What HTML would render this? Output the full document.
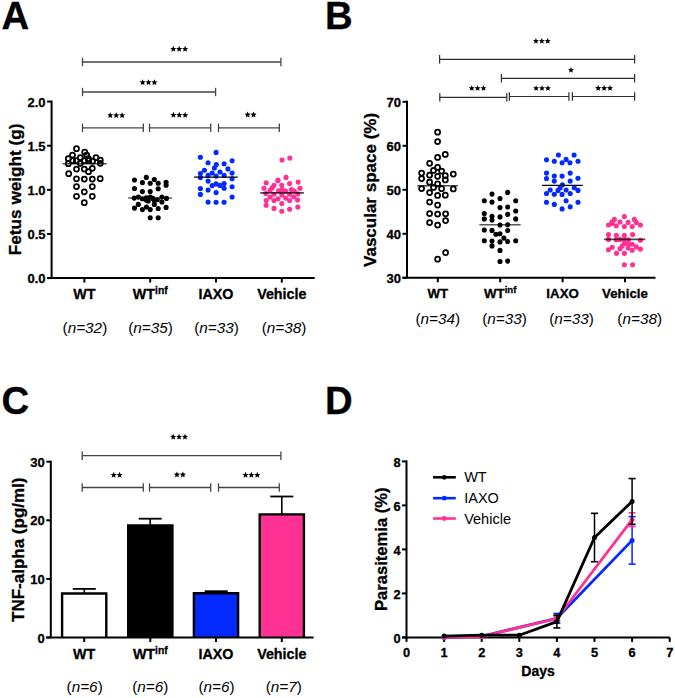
<!DOCTYPE html>
<html><head><meta charset="utf-8"><style>
html,body{margin:0;padding:0;background:#fff;}
svg{display:block;}
text{font-family:"Liberation Sans", sans-serif;fill:#000;}
text[font-weight=bold]{stroke:#000;stroke-width:0.3px;}
</style></head><body>
<svg width="675" height="698" viewBox="0 0 675 698">
<rect width="675" height="698" fill="#fff"/>
<text x="1.6" y="28.9" font-size="38.3" font-weight="bold" font-style="normal" text-anchor="start" >A</text>
<text x="325.0" y="28.9" font-size="38.3" font-weight="bold" font-style="normal" text-anchor="start" >B</text>
<text x="1.6" y="414.4" font-size="38.3" font-weight="bold" font-style="normal" text-anchor="start" >C</text>
<text x="325.0" y="414.4" font-size="38.3" font-weight="bold" font-style="normal" text-anchor="start" >D</text>
<line x1="51.6" y1="100.6" x2="51.6" y2="278.1" stroke="#000" stroke-width="2.0"/><line x1="47.1" y1="278.1" x2="51.6" y2="278.1" stroke="#000" stroke-width="2.0"/><text x="45.6" y="283.28000000000003" font-size="13" font-weight="bold" font-style="normal" text-anchor="end" >0.0</text><line x1="47.1" y1="233.97500000000002" x2="51.6" y2="233.97500000000002" stroke="#000" stroke-width="2.0"/><text x="45.6" y="239.15500000000003" font-size="13" font-weight="bold" font-style="normal" text-anchor="end" >0.5</text><line x1="47.1" y1="189.85000000000002" x2="51.6" y2="189.85000000000002" stroke="#000" stroke-width="2.0"/><text x="45.6" y="195.03000000000003" font-size="13" font-weight="bold" font-style="normal" text-anchor="end" >1.0</text><line x1="47.1" y1="145.72500000000002" x2="51.6" y2="145.72500000000002" stroke="#000" stroke-width="2.0"/><text x="45.6" y="150.90500000000003" font-size="13" font-weight="bold" font-style="normal" text-anchor="end" >1.5</text><line x1="47.1" y1="101.60000000000002" x2="51.6" y2="101.60000000000002" stroke="#000" stroke-width="2.0"/><text x="45.6" y="106.78000000000003" font-size="13" font-weight="bold" font-style="normal" text-anchor="end" >2.0</text>
<line x1="47.1" y1="278.1" x2="314.7" y2="278.1" stroke="#000" stroke-width="2.0"/><line x1="84.4" y1="278.1" x2="84.4" y2="282.6" stroke="#000" stroke-width="2.0"/><line x1="150.2" y1="278.1" x2="150.2" y2="282.6" stroke="#000" stroke-width="2.0"/><line x1="216.0" y1="278.1" x2="216.0" y2="282.6" stroke="#000" stroke-width="2.0"/><line x1="281.8" y1="278.1" x2="281.8" y2="282.6" stroke="#000" stroke-width="2.0"/>
<text x="0" y="0" font-size="17.2" font-weight="bold" text-anchor="middle" transform="translate(20.9,189.35) rotate(-90)">Fetus weight (g)</text>
<text x="84.4" y="298.8" font-size="14.3" font-weight="bold" font-style="normal" text-anchor="middle" >WT</text><text x="150.2" y="298.8" font-size="14.3" font-weight="bold" text-anchor="middle">WT<tspan font-size="10.3" dy="-5">inf</tspan></text><text x="216.0" y="298.8" font-size="14.3" font-weight="bold" font-style="normal" text-anchor="middle" >IAXO</text><text x="281.8" y="298.8" font-size="14.3" font-weight="bold" font-style="normal" text-anchor="middle" >Vehicle</text>
<text x="84.9" y="332.8" font-size="15.3" text-anchor="middle">(<tspan font-style="italic">n=</tspan><tspan font-style="italic">32</tspan>)</text><text x="150.5" y="332.8" font-size="15.3" text-anchor="middle">(<tspan font-style="italic">n=</tspan><tspan font-style="italic">35</tspan>)</text><text x="216.5" y="332.8" font-size="15.3" text-anchor="middle">(<tspan font-style="italic">n=</tspan><tspan font-style="italic">33</tspan>)</text><text x="284.0" y="332.8" font-size="15.3" text-anchor="middle">(<tspan font-style="italic">n=</tspan><tspan font-style="italic">38</tspan>)</text>
<circle cx="76.5" cy="148.7" r="2.5" fill="none" stroke="#000" stroke-width="1.75"/><circle cx="84.7" cy="152" r="2.5" fill="none" stroke="#000" stroke-width="1.75"/><circle cx="86.7" cy="155" r="2.5" fill="none" stroke="#000" stroke-width="1.75"/><circle cx="72.5" cy="155" r="2.5" fill="none" stroke="#000" stroke-width="1.75"/><circle cx="68.3" cy="158.7" r="2.5" fill="none" stroke="#000" stroke-width="1.75"/><circle cx="80.3" cy="157.7" r="2.5" fill="none" stroke="#000" stroke-width="1.75"/><circle cx="96" cy="157.7" r="2.5" fill="none" stroke="#000" stroke-width="1.75"/><circle cx="88.3" cy="158.7" r="2.5" fill="none" stroke="#000" stroke-width="1.75"/><circle cx="100.3" cy="160" r="2.5" fill="none" stroke="#000" stroke-width="1.75"/><circle cx="72.7" cy="160.7" r="2.5" fill="none" stroke="#000" stroke-width="1.75"/><circle cx="76.3" cy="160.7" r="2.5" fill="none" stroke="#000" stroke-width="1.75"/><circle cx="84.3" cy="160.7" r="2.5" fill="none" stroke="#000" stroke-width="1.75"/><circle cx="88.7" cy="160.7" r="2.5" fill="none" stroke="#000" stroke-width="1.75"/><circle cx="92.7" cy="161" r="2.5" fill="none" stroke="#000" stroke-width="1.75"/><circle cx="68.3" cy="163.7" r="2.5" fill="none" stroke="#000" stroke-width="1.75"/><circle cx="80.3" cy="163.3" r="2.5" fill="none" stroke="#000" stroke-width="1.75"/><circle cx="100.3" cy="163.3" r="2.5" fill="none" stroke="#000" stroke-width="1.75"/><circle cx="76.5" cy="169.1" r="2.5" fill="none" stroke="#000" stroke-width="1.75"/><circle cx="84.3" cy="169.1" r="2.5" fill="none" stroke="#000" stroke-width="1.75"/><circle cx="92.3" cy="168.3" r="2.5" fill="none" stroke="#000" stroke-width="1.75"/><circle cx="88.5" cy="171.7" r="2.5" fill="none" stroke="#000" stroke-width="1.75"/><circle cx="68.7" cy="173.7" r="2.5" fill="none" stroke="#000" stroke-width="1.75"/><circle cx="76.5" cy="178.8" r="2.5" fill="none" stroke="#000" stroke-width="1.75"/><circle cx="84.3" cy="179" r="2.5" fill="none" stroke="#000" stroke-width="1.75"/><circle cx="92.3" cy="179" r="2.5" fill="none" stroke="#000" stroke-width="1.75"/><circle cx="100.2" cy="178.7" r="2.5" fill="none" stroke="#000" stroke-width="1.75"/><circle cx="76.5" cy="186.5" r="2.5" fill="none" stroke="#000" stroke-width="1.75"/><circle cx="92.3" cy="186.5" r="2.5" fill="none" stroke="#000" stroke-width="1.75"/><circle cx="84.3" cy="191.8" r="2.5" fill="none" stroke="#000" stroke-width="1.75"/><circle cx="76.5" cy="196.3" r="2.5" fill="none" stroke="#000" stroke-width="1.75"/><circle cx="92.3" cy="196.3" r="2.5" fill="none" stroke="#000" stroke-width="1.75"/><circle cx="84.3" cy="202.7" r="2.5" fill="none" stroke="#000" stroke-width="1.75"/>
<line x1="62.6" y1="163.7" x2="106.6" y2="163.7" stroke="#000" stroke-width="1.6" opacity="0.7"/>
<circle cx="134.5" cy="180" r="2.55" fill="#000"/><circle cx="146.3" cy="177.4" r="2.55" fill="#000"/><circle cx="154.3" cy="179.6" r="2.55" fill="#000"/><circle cx="142.4" cy="182.6" r="2.55" fill="#000"/><circle cx="150.2" cy="183.3" r="2.55" fill="#000"/><circle cx="158.2" cy="183.2" r="2.55" fill="#000"/><circle cx="166.1" cy="182.2" r="2.55" fill="#000"/><circle cx="166.1" cy="185.2" r="2.55" fill="#000"/><circle cx="134.5" cy="188.5" r="2.55" fill="#000"/><circle cx="158.2" cy="188.7" r="2.55" fill="#000"/><circle cx="142.4" cy="191.6" r="2.55" fill="#000"/><circle cx="150.2" cy="191.5" r="2.55" fill="#000"/><circle cx="134.2" cy="198.1" r="2.55" fill="#000"/><circle cx="138.4" cy="197.1" r="2.55" fill="#000"/><circle cx="142.3" cy="198.8" r="2.55" fill="#000"/><circle cx="146.3" cy="197.8" r="2.55" fill="#000"/><circle cx="148.2" cy="201" r="2.55" fill="#000"/><circle cx="150.2" cy="197.1" r="2.55" fill="#000"/><circle cx="152.8" cy="198.4" r="2.55" fill="#000"/><circle cx="157.3" cy="199.7" r="2.55" fill="#000"/><circle cx="161.9" cy="197.1" r="2.55" fill="#000"/><circle cx="161.9" cy="202" r="2.55" fill="#000"/><circle cx="166.5" cy="198.4" r="2.55" fill="#000"/><circle cx="146.3" cy="200" r="2.55" fill="#000"/><circle cx="154.3" cy="200.5" r="2.55" fill="#000"/><circle cx="138.3" cy="204.4" r="2.55" fill="#000"/><circle cx="134.5" cy="208.1" r="2.55" fill="#000"/><circle cx="142.4" cy="209.6" r="2.55" fill="#000"/><circle cx="146.5" cy="207" r="2.55" fill="#000"/><circle cx="150.2" cy="209.6" r="2.55" fill="#000"/><circle cx="154.3" cy="204.4" r="2.55" fill="#000"/><circle cx="158.2" cy="208.5" r="2.55" fill="#000"/><circle cx="166.1" cy="207.4" r="2.55" fill="#000"/><circle cx="150.2" cy="217.8" r="2.55" fill="#000"/><circle cx="158.2" cy="217.8" r="2.55" fill="#000"/>
<line x1="128.3" y1="198" x2="172" y2="198" stroke="#000" stroke-width="1.6" opacity="0.65"/>
<circle cx="216.1" cy="152.4" r="2.55" fill="#022aff"/><circle cx="200.4" cy="157.2" r="2.55" fill="#022aff"/><circle cx="232.1" cy="160.7" r="2.55" fill="#022aff"/><circle cx="208.1" cy="162.8" r="2.55" fill="#022aff"/><circle cx="216.3" cy="164.6" r="2.55" fill="#022aff"/><circle cx="224.1" cy="163.7" r="2.55" fill="#022aff"/><circle cx="214.4" cy="168" r="2.55" fill="#022aff"/><circle cx="227.9" cy="168.9" r="2.55" fill="#022aff"/><circle cx="204.4" cy="170.3" r="2.55" fill="#022aff"/><circle cx="200.4" cy="173.5" r="2.55" fill="#022aff"/><circle cx="212.2" cy="173" r="2.55" fill="#022aff"/><circle cx="220" cy="172" r="2.55" fill="#022aff"/><circle cx="232.1" cy="173.1" r="2.55" fill="#022aff"/><circle cx="208.1" cy="175.4" r="2.55" fill="#022aff"/><circle cx="216.1" cy="176.1" r="2.55" fill="#022aff"/><circle cx="224.1" cy="175.4" r="2.55" fill="#022aff"/><circle cx="200.4" cy="177.6" r="2.55" fill="#022aff"/><circle cx="232.1" cy="178.7" r="2.55" fill="#022aff"/><circle cx="208.1" cy="181.1" r="2.55" fill="#022aff"/><circle cx="212.2" cy="185.6" r="2.55" fill="#022aff"/><circle cx="216.1" cy="183.9" r="2.55" fill="#022aff"/><circle cx="220" cy="185.4" r="2.55" fill="#022aff"/><circle cx="224.1" cy="183.5" r="2.55" fill="#022aff"/><circle cx="224.1" cy="188.3" r="2.55" fill="#022aff"/><circle cx="232.1" cy="186.7" r="2.55" fill="#022aff"/><circle cx="200.4" cy="188.5" r="2.55" fill="#022aff"/><circle cx="208.1" cy="190" r="2.55" fill="#022aff"/><circle cx="216.1" cy="192.6" r="2.55" fill="#022aff"/><circle cx="200.4" cy="194.4" r="2.55" fill="#022aff"/><circle cx="232.1" cy="197" r="2.55" fill="#022aff"/><circle cx="208.1" cy="202.1" r="2.55" fill="#022aff"/><circle cx="216.1" cy="202.2" r="2.55" fill="#022aff"/><circle cx="224.1" cy="202.2" r="2.55" fill="#022aff"/>
<line x1="194.1" y1="177.2" x2="237.8" y2="177.2" stroke="#000" stroke-width="1.3" opacity="1"/>
<circle cx="282" cy="160" r="2.55" fill="#ff3192"/><circle cx="289.8" cy="158.1" r="2.55" fill="#ff3192"/><circle cx="286" cy="177.4" r="2.55" fill="#ff3192"/><circle cx="278" cy="180" r="2.55" fill="#ff3192"/><circle cx="266.2" cy="182.8" r="2.55" fill="#ff3192"/><circle cx="277.9" cy="180.7" r="2.55" fill="#ff3192"/><circle cx="289.6" cy="183.6" r="2.55" fill="#ff3192"/><circle cx="298.2" cy="182.1" r="2.55" fill="#ff3192"/><circle cx="274" cy="185.3" r="2.55" fill="#ff3192"/><circle cx="281.8" cy="185.3" r="2.55" fill="#ff3192"/><circle cx="264" cy="188.2" r="2.55" fill="#ff3192"/><circle cx="300" cy="188.2" r="2.55" fill="#ff3192"/><circle cx="272.2" cy="187.8" r="2.55" fill="#ff3192"/><circle cx="270.1" cy="190.3" r="2.55" fill="#ff3192"/><circle cx="278.6" cy="190.7" r="2.55" fill="#ff3192"/><circle cx="282.2" cy="189.6" r="2.55" fill="#ff3192"/><circle cx="285.7" cy="191" r="2.55" fill="#ff3192"/><circle cx="291.4" cy="189.6" r="2.55" fill="#ff3192"/><circle cx="294.3" cy="191" r="2.55" fill="#ff3192"/><circle cx="265.8" cy="193.5" r="2.55" fill="#ff3192"/><circle cx="274" cy="194.2" r="2.55" fill="#ff3192"/><circle cx="281.8" cy="194.9" r="2.55" fill="#ff3192"/><circle cx="289.6" cy="194.2" r="2.55" fill="#ff3192"/><circle cx="297.8" cy="193.9" r="2.55" fill="#ff3192"/><circle cx="270.1" cy="197.1" r="2.55" fill="#ff3192"/><circle cx="277.9" cy="198.8" r="2.55" fill="#ff3192"/><circle cx="285.7" cy="198.1" r="2.55" fill="#ff3192"/><circle cx="293.6" cy="196.7" r="2.55" fill="#ff3192"/><circle cx="266.2" cy="200.6" r="2.55" fill="#ff3192"/><circle cx="274" cy="200.6" r="2.55" fill="#ff3192"/><circle cx="289.6" cy="200.6" r="2.55" fill="#ff3192"/><circle cx="297.5" cy="199.9" r="2.55" fill="#ff3192"/><circle cx="281.8" cy="203.5" r="2.55" fill="#ff3192"/><circle cx="266.2" cy="205.2" r="2.55" fill="#ff3192"/><circle cx="274" cy="208.4" r="2.55" fill="#ff3192"/><circle cx="281.8" cy="211.3" r="2.55" fill="#ff3192"/><circle cx="289.6" cy="209.2" r="2.55" fill="#ff3192"/><circle cx="297.8" cy="207" r="2.55" fill="#ff3192"/>
<line x1="260.2" y1="192.9" x2="303.9" y2="192.9" stroke="#000" stroke-width="1.8" opacity="0.7"/>
<line x1="82.5" y1="62" x2="280.9" y2="62" stroke="#444" stroke-width="1.3"/><line x1="82.5" y1="57.8" x2="82.5" y2="66.2" stroke="#444" stroke-width="1.3"/><line x1="280.9" y1="57.8" x2="280.9" y2="66.2" stroke="#444" stroke-width="1.3"/>
<polygon points="173.30,45.85 174.18,47.89 176.39,48.10 174.72,49.56 175.21,51.73 173.30,50.59 171.39,51.73 171.88,49.56 170.21,48.10 172.42,47.89" fill="#000"/><polygon points="179.20,45.85 180.08,47.89 182.29,48.10 180.62,49.56 181.11,51.73 179.20,50.59 177.29,51.73 177.78,49.56 176.11,48.10 178.32,47.89" fill="#000"/><polygon points="185.10,45.85 185.98,47.89 188.19,48.10 186.52,49.56 187.01,51.73 185.10,50.59 183.19,51.73 183.68,49.56 182.01,48.10 184.22,47.89" fill="#000"/>
<line x1="82.5" y1="92" x2="215.6" y2="92" stroke="#444" stroke-width="1.3"/><line x1="82.5" y1="87.8" x2="82.5" y2="96.2" stroke="#444" stroke-width="1.3"/><line x1="215.6" y1="87.8" x2="215.6" y2="96.2" stroke="#444" stroke-width="1.3"/>
<polygon points="142.60,79.15 143.48,81.19 145.69,81.40 144.02,82.86 144.51,85.03 142.60,83.90 140.69,85.03 141.18,82.86 139.51,81.40 141.72,81.19" fill="#000"/><polygon points="148.50,79.15 149.38,81.19 151.59,81.40 149.92,82.86 150.41,85.03 148.50,83.90 146.59,85.03 147.08,82.86 145.41,81.40 147.62,81.19" fill="#000"/><polygon points="154.40,79.15 155.28,81.19 157.49,81.40 155.82,82.86 156.31,85.03 154.40,83.90 152.49,85.03 152.98,82.86 151.31,81.40 153.52,81.19" fill="#000"/>
<line x1="82.5" y1="127.8" x2="143.3" y2="127.8" stroke="#444" stroke-width="1.3"/><line x1="82.5" y1="123.6" x2="82.5" y2="132.0" stroke="#444" stroke-width="1.3"/><line x1="143.3" y1="123.6" x2="143.3" y2="132.0" stroke="#444" stroke-width="1.3"/>
<line x1="149.5" y1="127.8" x2="210.7" y2="127.8" stroke="#444" stroke-width="1.3"/><line x1="149.5" y1="123.6" x2="149.5" y2="132.0" stroke="#444" stroke-width="1.3"/><line x1="210.7" y1="123.6" x2="210.7" y2="132.0" stroke="#444" stroke-width="1.3"/>
<line x1="218.5" y1="127.8" x2="279.3" y2="127.8" stroke="#444" stroke-width="1.3"/><line x1="218.5" y1="123.6" x2="218.5" y2="132.0" stroke="#444" stroke-width="1.3"/><line x1="279.3" y1="123.6" x2="279.3" y2="132.0" stroke="#444" stroke-width="1.3"/>
<polygon points="110.30,112.15 111.18,114.19 113.39,114.40 111.72,115.86 112.21,118.03 110.30,116.90 108.39,118.03 108.88,115.86 107.21,114.40 109.42,114.19" fill="#000"/><polygon points="116.20,112.15 117.08,114.19 119.29,114.40 117.62,115.86 118.11,118.03 116.20,116.90 114.29,118.03 114.78,115.86 113.11,114.40 115.32,114.19" fill="#000"/><polygon points="122.10,112.15 122.98,114.19 125.19,114.40 123.52,115.86 124.01,118.03 122.10,116.90 120.19,118.03 120.68,115.86 119.01,114.40 121.22,114.19" fill="#000"/>
<polygon points="173.40,111.85 174.28,113.89 176.49,114.10 174.82,115.56 175.31,117.73 173.40,116.59 171.49,117.73 171.98,115.56 170.31,114.10 172.52,113.89" fill="#000"/><polygon points="179.30,111.85 180.18,113.89 182.39,114.10 180.72,115.56 181.21,117.73 179.30,116.59 177.39,117.73 177.88,115.56 176.21,114.10 178.42,113.89" fill="#000"/><polygon points="185.20,111.85 186.08,113.89 188.29,114.10 186.62,115.56 187.11,117.73 185.20,116.59 183.29,117.73 183.78,115.56 182.11,114.10 184.32,113.89" fill="#000"/>
<polygon points="247.65,111.55 248.53,113.59 250.74,113.80 249.07,115.26 249.56,117.43 247.65,116.30 245.74,117.43 246.23,115.26 244.56,113.80 246.77,113.59" fill="#000"/><polygon points="253.55,111.55 254.43,113.59 256.64,113.80 254.97,115.26 255.46,117.43 253.55,116.30 251.64,117.43 252.13,115.26 250.46,113.80 252.67,113.59" fill="#000"/>
<line x1="407" y1="100.80000000000001" x2="407" y2="277.8" stroke="#000" stroke-width="2.0"/><line x1="402.5" y1="277.8" x2="407" y2="277.8" stroke="#000" stroke-width="2.0"/><text x="401.0" y="282.98" font-size="13" font-weight="bold" font-style="normal" text-anchor="end" >30</text><line x1="402.5" y1="233.8" x2="407" y2="233.8" stroke="#000" stroke-width="2.0"/><text x="401.0" y="238.98000000000002" font-size="13" font-weight="bold" font-style="normal" text-anchor="end" >40</text><line x1="402.5" y1="189.8" x2="407" y2="189.8" stroke="#000" stroke-width="2.0"/><text x="401.0" y="194.98000000000002" font-size="13" font-weight="bold" font-style="normal" text-anchor="end" >50</text><line x1="402.5" y1="145.8" x2="407" y2="145.8" stroke="#000" stroke-width="2.0"/><text x="401.0" y="150.98000000000002" font-size="13" font-weight="bold" font-style="normal" text-anchor="end" >60</text><line x1="402.5" y1="101.80000000000001" x2="407" y2="101.80000000000001" stroke="#000" stroke-width="2.0"/><text x="401.0" y="106.98000000000002" font-size="13" font-weight="bold" font-style="normal" text-anchor="end" >70</text>
<line x1="402.5" y1="277.8" x2="655.5" y2="277.8" stroke="#000" stroke-width="2.0"/><line x1="437.8" y1="277.8" x2="437.8" y2="282.3" stroke="#000" stroke-width="2.0"/><line x1="500.2" y1="277.8" x2="500.2" y2="282.3" stroke="#000" stroke-width="2.0"/><line x1="562.6" y1="277.8" x2="562.6" y2="282.3" stroke="#000" stroke-width="2.0"/><line x1="625.0" y1="277.8" x2="625.0" y2="282.3" stroke="#000" stroke-width="2.0"/>
<text x="0" y="0" font-size="17.0" font-weight="bold" text-anchor="middle" transform="translate(376.2,189.95) rotate(-90)">Vascular space (%)</text>
<text x="437.8" y="297.6" font-size="13.3" font-weight="bold" font-style="normal" text-anchor="middle" >WT</text><text x="500.2" y="297.6" font-size="13.3" font-weight="bold" text-anchor="middle">WT<tspan font-size="9.6" dy="-5">inf</tspan></text><text x="562.6" y="297.6" font-size="13.3" font-weight="bold" font-style="normal" text-anchor="middle" >IAXO</text><text x="625.0" y="297.6" font-size="13.3" font-weight="bold" font-style="normal" text-anchor="middle" >Vehicle</text>
<text x="437.75" y="324.4" font-size="15.3" text-anchor="middle">(<tspan font-style="italic">n=</tspan><tspan font-style="italic">34</tspan>)</text><text x="504.6" y="324.4" font-size="15.3" text-anchor="middle">(<tspan font-style="italic">n=</tspan><tspan font-style="italic">33</tspan>)</text><text x="571.6" y="324.4" font-size="15.3" text-anchor="middle">(<tspan font-style="italic">n=</tspan><tspan font-style="italic">33</tspan>)</text><text x="639.7" y="324.4" font-size="15.3" text-anchor="middle">(<tspan font-style="italic">n=</tspan><tspan font-style="italic">38</tspan>)</text>
<circle cx="437.6" cy="132.2" r="2.5" fill="none" stroke="#000" stroke-width="1.75"/><circle cx="437.6" cy="141.5" r="2.5" fill="none" stroke="#000" stroke-width="1.75"/><circle cx="445.3" cy="154.4" r="2.5" fill="none" stroke="#000" stroke-width="1.75"/><circle cx="437.6" cy="157.4" r="2.5" fill="none" stroke="#000" stroke-width="1.75"/><circle cx="429.6" cy="163.3" r="2.5" fill="none" stroke="#000" stroke-width="1.75"/><circle cx="437.6" cy="167.4" r="2.5" fill="none" stroke="#000" stroke-width="1.75"/><circle cx="433.5" cy="170.4" r="2.5" fill="none" stroke="#000" stroke-width="1.75"/><circle cx="441.6" cy="171" r="2.5" fill="none" stroke="#000" stroke-width="1.75"/><circle cx="421.6" cy="173" r="2.5" fill="none" stroke="#000" stroke-width="1.75"/><circle cx="453.3" cy="174.1" r="2.5" fill="none" stroke="#000" stroke-width="1.75"/><circle cx="429.6" cy="175.2" r="2.5" fill="none" stroke="#000" stroke-width="1.75"/><circle cx="437.6" cy="176.3" r="2.5" fill="none" stroke="#000" stroke-width="1.75"/><circle cx="445.3" cy="175.7" r="2.5" fill="none" stroke="#000" stroke-width="1.75"/><circle cx="421.6" cy="178.5" r="2.5" fill="none" stroke="#000" stroke-width="1.75"/><circle cx="445.3" cy="179.9" r="2.5" fill="none" stroke="#000" stroke-width="1.75"/><circle cx="429.6" cy="182.2" r="2.5" fill="none" stroke="#000" stroke-width="1.75"/><circle cx="437.6" cy="183.9" r="2.5" fill="none" stroke="#000" stroke-width="1.75"/><circle cx="421.6" cy="188.5" r="2.5" fill="none" stroke="#000" stroke-width="1.75"/><circle cx="433.5" cy="187.4" r="2.5" fill="none" stroke="#000" stroke-width="1.75"/><circle cx="441.6" cy="188.7" r="2.5" fill="none" stroke="#000" stroke-width="1.75"/><circle cx="453.3" cy="188.9" r="2.5" fill="none" stroke="#000" stroke-width="1.75"/><circle cx="429.6" cy="192.6" r="2.5" fill="none" stroke="#000" stroke-width="1.75"/><circle cx="437.6" cy="195.4" r="2.5" fill="none" stroke="#000" stroke-width="1.75"/><circle cx="445.3" cy="195.2" r="2.5" fill="none" stroke="#000" stroke-width="1.75"/><circle cx="429.6" cy="202" r="2.5" fill="none" stroke="#000" stroke-width="1.75"/><circle cx="437.6" cy="205" r="2.5" fill="none" stroke="#000" stroke-width="1.75"/><circle cx="429.6" cy="213.5" r="2.5" fill="none" stroke="#000" stroke-width="1.75"/><circle cx="437.6" cy="214" r="2.5" fill="none" stroke="#000" stroke-width="1.75"/><circle cx="445.6" cy="213.8" r="2.5" fill="none" stroke="#000" stroke-width="1.75"/><circle cx="445.6" cy="220.6" r="2.5" fill="none" stroke="#000" stroke-width="1.75"/><circle cx="429.6" cy="222.6" r="2.5" fill="none" stroke="#000" stroke-width="1.75"/><circle cx="437.6" cy="225.1" r="2.5" fill="none" stroke="#000" stroke-width="1.75"/><circle cx="445.6" cy="252.7" r="2.5" fill="none" stroke="#000" stroke-width="1.75"/><circle cx="437.6" cy="259.2" r="2.5" fill="none" stroke="#000" stroke-width="1.75"/>
<line x1="417.2" y1="185.8" x2="457.9" y2="185.8" stroke="#000" stroke-width="1.6" opacity="0.7"/>
<circle cx="507.7" cy="192.4" r="2.55" fill="#000"/><circle cx="492" cy="194.1" r="2.55" fill="#000"/><circle cx="500" cy="198.5" r="2.55" fill="#000"/><circle cx="484.3" cy="200.7" r="2.55" fill="#000"/><circle cx="515.7" cy="200.7" r="2.55" fill="#000"/><circle cx="492" cy="202.1" r="2.55" fill="#000"/><circle cx="500" cy="207.6" r="2.55" fill="#000"/><circle cx="507.7" cy="207" r="2.55" fill="#000"/><circle cx="515.7" cy="211" r="2.55" fill="#000"/><circle cx="484.3" cy="213.5" r="2.55" fill="#000"/><circle cx="507.7" cy="214.4" r="2.55" fill="#000"/><circle cx="492" cy="216.3" r="2.55" fill="#000"/><circle cx="500" cy="216.9" r="2.55" fill="#000"/><circle cx="484.3" cy="218.9" r="2.55" fill="#000"/><circle cx="515.7" cy="218.9" r="2.55" fill="#000"/><circle cx="492" cy="220" r="2.55" fill="#000"/><circle cx="500" cy="225" r="2.55" fill="#000"/><circle cx="507.7" cy="224.8" r="2.55" fill="#000"/><circle cx="484.3" cy="230" r="2.55" fill="#000"/><circle cx="492" cy="230.4" r="2.55" fill="#000"/><circle cx="507.7" cy="230.5" r="2.55" fill="#000"/><circle cx="495.9" cy="234.2" r="2.55" fill="#000"/><circle cx="500" cy="233.7" r="2.55" fill="#000"/><circle cx="503.9" cy="238.1" r="2.55" fill="#000"/><circle cx="484.3" cy="240.7" r="2.55" fill="#000"/><circle cx="492" cy="241.1" r="2.55" fill="#000"/><circle cx="500" cy="241.9" r="2.55" fill="#000"/><circle cx="507.7" cy="241.5" r="2.55" fill="#000"/><circle cx="515.7" cy="240.7" r="2.55" fill="#000"/><circle cx="492" cy="245.9" r="2.55" fill="#000"/><circle cx="500" cy="250.4" r="2.55" fill="#000"/><circle cx="500" cy="261.5" r="2.55" fill="#000"/><circle cx="507.7" cy="261.1" r="2.55" fill="#000"/>
<line x1="479.4" y1="224.8" x2="520.6" y2="224.8" stroke="#000" stroke-width="1.6" opacity="0.65"/>
<circle cx="558.4" cy="155" r="2.55" fill="#022aff"/><circle cx="574.1" cy="155" r="2.55" fill="#022aff"/><circle cx="546.5" cy="159.8" r="2.55" fill="#022aff"/><circle cx="554.3" cy="161.3" r="2.55" fill="#022aff"/><circle cx="566.1" cy="159.4" r="2.55" fill="#022aff"/><circle cx="562.1" cy="162.8" r="2.55" fill="#022aff"/><circle cx="570" cy="162.8" r="2.55" fill="#022aff"/><circle cx="578" cy="161.3" r="2.55" fill="#022aff"/><circle cx="546.5" cy="173.1" r="2.55" fill="#022aff"/><circle cx="570.2" cy="173.1" r="2.55" fill="#022aff"/><circle cx="554.3" cy="176" r="2.55" fill="#022aff"/><circle cx="562.1" cy="176.1" r="2.55" fill="#022aff"/><circle cx="546.5" cy="178.5" r="2.55" fill="#022aff"/><circle cx="578" cy="178.3" r="2.55" fill="#022aff"/><circle cx="554.3" cy="181.1" r="2.55" fill="#022aff"/><circle cx="570.2" cy="181.1" r="2.55" fill="#022aff"/><circle cx="562.4" cy="184.8" r="2.55" fill="#022aff"/><circle cx="560.2" cy="187.8" r="2.55" fill="#022aff"/><circle cx="558" cy="190.4" r="2.55" fill="#022aff"/><circle cx="550.2" cy="190" r="2.55" fill="#022aff"/><circle cx="566.1" cy="190" r="2.55" fill="#022aff"/><circle cx="574.3" cy="187.8" r="2.55" fill="#022aff"/><circle cx="578" cy="190.4" r="2.55" fill="#022aff"/><circle cx="546.5" cy="193.5" r="2.55" fill="#022aff"/><circle cx="554.3" cy="194.2" r="2.55" fill="#022aff"/><circle cx="562.1" cy="194.4" r="2.55" fill="#022aff"/><circle cx="570.2" cy="193.5" r="2.55" fill="#022aff"/><circle cx="546.5" cy="202.2" r="2.55" fill="#022aff"/><circle cx="554.3" cy="204.4" r="2.55" fill="#022aff"/><circle cx="566.1" cy="200.7" r="2.55" fill="#022aff"/><circle cx="578" cy="202.2" r="2.55" fill="#022aff"/><circle cx="562.1" cy="208.9" r="2.55" fill="#022aff"/><circle cx="570.2" cy="206.7" r="2.55" fill="#022aff"/>
<line x1="542.1" y1="185.4" x2="582.8" y2="185.4" stroke="#000" stroke-width="1.3" opacity="1"/>
<circle cx="624.4" cy="216.5" r="2.55" fill="#ff3192"/><circle cx="614.4" cy="219.4" r="2.55" fill="#ff3192"/><circle cx="634.4" cy="219.4" r="2.55" fill="#ff3192"/><circle cx="611.9" cy="222" r="2.55" fill="#ff3192"/><circle cx="620" cy="222" r="2.55" fill="#ff3192"/><circle cx="628.1" cy="222.4" r="2.55" fill="#ff3192"/><circle cx="636.3" cy="222.4" r="2.55" fill="#ff3192"/><circle cx="608.5" cy="225" r="2.55" fill="#ff3192"/><circle cx="616.3" cy="225.7" r="2.55" fill="#ff3192"/><circle cx="624.4" cy="226.5" r="2.55" fill="#ff3192"/><circle cx="632.2" cy="226.5" r="2.55" fill="#ff3192"/><circle cx="640.4" cy="225" r="2.55" fill="#ff3192"/><circle cx="612.2" cy="223.5" r="2.55" fill="#ff3192"/><circle cx="608.5" cy="234.6" r="2.55" fill="#ff3192"/><circle cx="616.3" cy="235.4" r="2.55" fill="#ff3192"/><circle cx="624.4" cy="235.4" r="2.55" fill="#ff3192"/><circle cx="632.6" cy="234.6" r="2.55" fill="#ff3192"/><circle cx="608.5" cy="239.4" r="2.55" fill="#ff3192"/><circle cx="616.3" cy="239.8" r="2.55" fill="#ff3192"/><circle cx="620" cy="239.4" r="2.55" fill="#ff3192"/><circle cx="628.5" cy="239.8" r="2.55" fill="#ff3192"/><circle cx="640.4" cy="240.2" r="2.55" fill="#ff3192"/><circle cx="624.4" cy="239.6" r="2.55" fill="#ff3192"/><circle cx="612.2" cy="247.2" r="2.55" fill="#ff3192"/><circle cx="608.5" cy="249.8" r="2.55" fill="#ff3192"/><circle cx="624.4" cy="243.5" r="2.55" fill="#ff3192"/><circle cx="622.2" cy="246.1" r="2.55" fill="#ff3192"/><circle cx="620" cy="248.7" r="2.55" fill="#ff3192"/><circle cx="632.2" cy="244.3" r="2.55" fill="#ff3192"/><circle cx="636.3" cy="246.9" r="2.55" fill="#ff3192"/><circle cx="640.4" cy="249.1" r="2.55" fill="#ff3192"/><circle cx="628.1" cy="248" r="2.55" fill="#ff3192"/><circle cx="632.2" cy="250.2" r="2.55" fill="#ff3192"/><circle cx="616.5" cy="253.4" r="2.55" fill="#ff3192"/><circle cx="624.4" cy="253.4" r="2.55" fill="#ff3192"/><circle cx="624.4" cy="264.8" r="2.55" fill="#ff3192"/><circle cx="632.6" cy="264.8" r="2.55" fill="#ff3192"/><circle cx="628.2" cy="244" r="2.55" fill="#ff3192"/>
<line x1="604.1" y1="239.3" x2="645.2" y2="239.3" stroke="#000" stroke-width="1.8" opacity="0.7"/>
<line x1="439.6" y1="59.3" x2="634.6" y2="59.3" stroke="#2e2e2e" stroke-width="1.2"/><line x1="439.6" y1="55.099999999999994" x2="439.6" y2="63.5" stroke="#2e2e2e" stroke-width="1.2"/><line x1="634.6" y1="55.099999999999994" x2="634.6" y2="63.5" stroke="#2e2e2e" stroke-width="1.2"/>
<polygon points="535.90,37.95 536.75,39.93 538.90,40.13 537.28,41.55 537.75,43.65 535.90,42.55 534.05,43.65 534.52,41.55 532.90,40.13 535.05,39.93" fill="#000"/><polygon points="541.80,37.95 542.65,39.93 544.80,40.13 543.18,41.55 543.65,43.65 541.80,42.55 539.95,43.65 540.42,41.55 538.80,40.13 540.95,39.93" fill="#000"/><polygon points="547.70,37.95 548.55,39.93 550.70,40.13 549.08,41.55 549.55,43.65 547.70,42.55 545.85,43.65 546.32,41.55 544.70,40.13 546.85,39.93" fill="#000"/>
<line x1="501.4" y1="78.3" x2="634.6" y2="78.3" stroke="#2e2e2e" stroke-width="1.2"/><line x1="501.4" y1="74.1" x2="501.4" y2="82.5" stroke="#2e2e2e" stroke-width="1.2"/><line x1="634.6" y1="74.1" x2="634.6" y2="82.5" stroke="#2e2e2e" stroke-width="1.2"/>
<polygon points="571.00,66.95 571.85,68.93 574.00,69.13 572.38,70.55 572.85,72.65 571.00,71.55 569.15,72.65 569.62,70.55 568.00,69.13 570.15,68.93" fill="#000"/>
<line x1="439.8" y1="97.3" x2="506.8" y2="97.3" stroke="#2e2e2e" stroke-width="1.2"/><line x1="439.8" y1="93.1" x2="439.8" y2="101.5" stroke="#2e2e2e" stroke-width="1.2"/><line x1="506.8" y1="93.1" x2="506.8" y2="101.5" stroke="#2e2e2e" stroke-width="1.2"/>
<line x1="509.4" y1="96.5" x2="568.9" y2="96.5" stroke="#2e2e2e" stroke-width="1.2"/><line x1="509.4" y1="92.3" x2="509.4" y2="100.7" stroke="#2e2e2e" stroke-width="1.2"/><line x1="568.9" y1="92.3" x2="568.9" y2="100.7" stroke="#2e2e2e" stroke-width="1.2"/>
<line x1="572.4" y1="96.5" x2="634.6" y2="96.5" stroke="#2e2e2e" stroke-width="1.2"/><line x1="572.4" y1="92.3" x2="572.4" y2="100.7" stroke="#2e2e2e" stroke-width="1.2"/><line x1="634.6" y1="92.3" x2="634.6" y2="100.7" stroke="#2e2e2e" stroke-width="1.2"/>
<polygon points="471.70,85.15 472.55,87.13 474.70,87.33 473.08,88.75 473.55,90.85 471.70,89.75 469.85,90.85 470.32,88.75 468.70,87.33 470.85,87.13" fill="#000"/><polygon points="477.60,85.15 478.45,87.13 480.60,87.33 478.98,88.75 479.45,90.85 477.60,89.75 475.75,90.85 476.22,88.75 474.60,87.33 476.75,87.13" fill="#000"/><polygon points="483.50,85.15 484.35,87.13 486.50,87.33 484.88,88.75 485.35,90.85 483.50,89.75 481.65,90.85 482.12,88.75 480.50,87.33 482.65,87.13" fill="#000"/>
<polygon points="536.10,85.15 536.95,87.13 539.10,87.33 537.48,88.75 537.95,90.85 536.10,89.75 534.25,90.85 534.72,88.75 533.10,87.33 535.25,87.13" fill="#000"/><polygon points="542.00,85.15 542.85,87.13 545.00,87.33 543.38,88.75 543.85,90.85 542.00,89.75 540.15,90.85 540.62,88.75 539.00,87.33 541.15,87.13" fill="#000"/><polygon points="547.90,85.15 548.75,87.13 550.90,87.33 549.28,88.75 549.75,90.85 547.90,89.75 546.05,90.85 546.52,88.75 544.90,87.33 547.05,87.13" fill="#000"/>
<polygon points="598.20,85.05 599.05,87.03 601.20,87.23 599.58,88.65 600.05,90.75 598.20,89.65 596.35,90.75 596.82,88.65 595.20,87.23 597.35,87.03" fill="#000"/><polygon points="604.10,85.05 604.95,87.03 607.10,87.23 605.48,88.65 605.95,90.75 604.10,89.65 602.25,90.75 602.72,88.65 601.10,87.23 603.25,87.03" fill="#000"/><polygon points="610.00,85.05 610.85,87.03 613.00,87.23 611.38,88.65 611.85,90.75 610.00,89.65 608.15,90.75 608.62,88.65 607.00,87.23 609.15,87.03" fill="#000"/>
<line x1="84.3" y1="588.9" x2="84.3" y2="594" stroke="#000" stroke-width="1.6"/><line x1="72.8" y1="588.9" x2="95.8" y2="588.9" stroke="#000" stroke-width="1.8"/>
<rect x="62.1" y="593.5" width="44.2" height="44.0" fill="#fff"/><path d="M62.1,637.5 V593.5 H106.30000000000001 V637.5" fill="none" stroke="#000" stroke-width="2.4" stroke-linejoin="miter"/>
<line x1="150.2" y1="518.7" x2="150.2" y2="526" stroke="#000" stroke-width="1.6"/><line x1="138.7" y1="518.7" x2="161.7" y2="518.7" stroke="#000" stroke-width="1.8"/>
<rect x="128.20000000000002" y="525.5" width="44.2" height="112.0" fill="#000"/><path d="M128.20000000000002,637.5 V525.5 H172.4 V637.5" fill="none" stroke="#000" stroke-width="2.4" stroke-linejoin="miter"/>
<line x1="216.2" y1="591.2" x2="216.2" y2="594" stroke="#000" stroke-width="1.6"/><line x1="204.7" y1="591.2" x2="227.7" y2="591.2" stroke="#000" stroke-width="1.8"/>
<rect x="193.9" y="593.2" width="44.2" height="44.299999999999955" fill="#022aff"/><path d="M193.9,637.5 V593.2 H238.1 V637.5" fill="none" stroke="#000" stroke-width="2.4" stroke-linejoin="miter"/>
<line x1="281.8" y1="496.5" x2="281.8" y2="515" stroke="#000" stroke-width="1.6"/><line x1="270.3" y1="496.5" x2="293.3" y2="496.5" stroke="#000" stroke-width="1.8"/>
<rect x="259.7" y="514.4" width="44.2" height="123.10000000000002" fill="#ff3192"/><path d="M259.7,637.5 V514.4 H303.90000000000003 V637.5" fill="none" stroke="#000" stroke-width="2.4" stroke-linejoin="miter"/>
<line x1="50.8" y1="460.7" x2="50.8" y2="637.5" stroke="#000" stroke-width="2.0"/><line x1="46.3" y1="637.5" x2="50.8" y2="637.5" stroke="#000" stroke-width="2.0"/><text x="44.8" y="642.68" font-size="13" font-weight="bold" font-style="normal" text-anchor="end" >0</text><line x1="46.3" y1="578.9" x2="50.8" y2="578.9" stroke="#000" stroke-width="2.0"/><text x="44.8" y="584.0799999999999" font-size="13" font-weight="bold" font-style="normal" text-anchor="end" >10</text><line x1="46.3" y1="520.3" x2="50.8" y2="520.3" stroke="#000" stroke-width="2.0"/><text x="44.8" y="525.4799999999999" font-size="13" font-weight="bold" font-style="normal" text-anchor="end" >20</text><line x1="46.3" y1="461.7" x2="50.8" y2="461.7" stroke="#000" stroke-width="2.0"/><text x="44.8" y="466.88" font-size="13" font-weight="bold" font-style="normal" text-anchor="end" >30</text>
<line x1="46.3" y1="637.5" x2="313.6" y2="637.5" stroke="#000" stroke-width="2.0"/><line x1="84.2" y1="637.5" x2="84.2" y2="642.0" stroke="#000" stroke-width="2.0"/><line x1="150.3" y1="637.5" x2="150.3" y2="642.0" stroke="#000" stroke-width="2.0"/><line x1="216.0" y1="637.5" x2="216.0" y2="642.0" stroke="#000" stroke-width="2.0"/><line x1="281.8" y1="637.5" x2="281.8" y2="642.0" stroke="#000" stroke-width="2.0"/>
<text x="0" y="0" font-size="17.0" font-weight="bold" text-anchor="middle" transform="translate(23.8,549.75) rotate(-90)">TNF-alpha (pg/ml)</text>
<text x="84.2" y="658.7" font-size="14.3" font-weight="bold" font-style="normal" text-anchor="middle" >WT</text><text x="150.3" y="658.7" font-size="14.3" font-weight="bold" text-anchor="middle">WT<tspan font-size="10.3" dy="-5">inf</tspan></text><text x="216.0" y="658.7" font-size="14.3" font-weight="bold" font-style="normal" text-anchor="middle" >IAXO</text><text x="281.8" y="658.7" font-size="14.3" font-weight="bold" font-style="normal" text-anchor="middle" >Vehicle</text>
<text x="84.65" y="692" font-size="15.3" text-anchor="middle">(<tspan font-style="italic">n=</tspan><tspan font-style="italic">6</tspan>)</text><text x="150.3" y="692" font-size="15.3" text-anchor="middle">(<tspan font-style="italic">n=</tspan><tspan font-style="italic">6</tspan>)</text><text x="216.5" y="692" font-size="15.3" text-anchor="middle">(<tspan font-style="italic">n=</tspan><tspan font-style="italic">6</tspan>)</text><text x="283.8" y="692" font-size="15.3" text-anchor="middle">(<tspan font-style="italic">n=</tspan><tspan font-style="italic">7</tspan>)</text>
<line x1="82.2" y1="455.7" x2="280.9" y2="455.7" stroke="#444" stroke-width="1.3"/><line x1="82.2" y1="451.5" x2="82.2" y2="459.9" stroke="#444" stroke-width="1.3"/><line x1="280.9" y1="451.5" x2="280.9" y2="459.9" stroke="#444" stroke-width="1.3"/>
<polygon points="173.20,433.65 174.08,435.69 176.29,435.90 174.62,437.36 175.11,439.53 173.20,438.39 171.29,439.53 171.78,437.36 170.11,435.90 172.32,435.69" fill="#000"/><polygon points="179.10,433.65 179.98,435.69 182.19,435.90 180.52,437.36 181.01,439.53 179.10,438.39 177.19,439.53 177.68,437.36 176.01,435.90 178.22,435.69" fill="#000"/><polygon points="185.00,433.65 185.88,435.69 188.09,435.90 186.42,437.36 186.91,439.53 185.00,438.39 183.09,439.53 183.58,437.36 181.91,435.90 184.12,435.69" fill="#000"/>
<line x1="82.2" y1="487.5" x2="143.3" y2="487.5" stroke="#444" stroke-width="1.3"/><line x1="82.2" y1="483.3" x2="82.2" y2="491.7" stroke="#444" stroke-width="1.3"/><line x1="143.3" y1="483.3" x2="143.3" y2="491.7" stroke="#444" stroke-width="1.3"/>
<line x1="149.5" y1="487.5" x2="210.7" y2="487.5" stroke="#444" stroke-width="1.3"/><line x1="149.5" y1="483.3" x2="149.5" y2="491.7" stroke="#444" stroke-width="1.3"/><line x1="210.7" y1="483.3" x2="210.7" y2="491.7" stroke="#444" stroke-width="1.3"/>
<line x1="218.5" y1="487.5" x2="279.3" y2="487.5" stroke="#444" stroke-width="1.3"/><line x1="218.5" y1="483.3" x2="218.5" y2="491.7" stroke="#444" stroke-width="1.3"/><line x1="279.3" y1="483.3" x2="279.3" y2="491.7" stroke="#444" stroke-width="1.3"/>
<polygon points="113.65,471.85 114.53,473.89 116.74,474.10 115.07,475.56 115.56,477.73 113.65,476.60 111.74,477.73 112.23,475.56 110.56,474.10 112.77,473.89" fill="#000"/><polygon points="119.55,471.85 120.43,473.89 122.64,474.10 120.97,475.56 121.46,477.73 119.55,476.60 117.64,477.73 118.13,475.56 116.46,474.10 118.67,473.89" fill="#000"/>
<polygon points="176.95,471.55 177.83,473.59 180.04,473.80 178.37,475.26 178.86,477.43 176.95,476.30 175.04,477.43 175.53,475.26 173.86,473.80 176.07,473.59" fill="#000"/><polygon points="182.85,471.55 183.73,473.59 185.94,473.80 184.27,475.26 184.76,477.43 182.85,476.30 180.94,477.43 181.43,475.26 179.76,473.80 181.97,473.59" fill="#000"/>
<polygon points="245.50,471.85 246.38,473.89 248.59,474.10 246.92,475.56 247.41,477.73 245.50,476.60 243.59,477.73 244.08,475.56 242.41,474.10 244.62,473.89" fill="#000"/><polygon points="251.40,471.85 252.28,473.89 254.49,474.10 252.82,475.56 253.31,477.73 251.40,476.60 249.49,477.73 249.98,475.56 248.31,474.10 250.52,473.89" fill="#000"/><polygon points="257.30,471.85 258.18,473.89 260.39,474.10 258.72,475.56 259.21,477.73 257.30,476.60 255.39,477.73 255.88,475.56 254.21,474.10 256.42,473.89" fill="#000"/>
<line x1="406.5" y1="460.4" x2="406.5" y2="637.4" stroke="#000" stroke-width="2.0"/><line x1="402.0" y1="637.4" x2="406.5" y2="637.4" stroke="#000" stroke-width="2.0"/><text x="400.5" y="642.5079999999999" font-size="12.8" font-weight="bold" font-style="normal" text-anchor="end" >0</text><line x1="402.0" y1="593.4" x2="406.5" y2="593.4" stroke="#000" stroke-width="2.0"/><text x="400.5" y="598.5079999999999" font-size="12.8" font-weight="bold" font-style="normal" text-anchor="end" >2</text><line x1="402.0" y1="549.4" x2="406.5" y2="549.4" stroke="#000" stroke-width="2.0"/><text x="400.5" y="554.5079999999999" font-size="12.8" font-weight="bold" font-style="normal" text-anchor="end" >4</text><line x1="402.0" y1="505.4" x2="406.5" y2="505.4" stroke="#000" stroke-width="2.0"/><text x="400.5" y="510.508" font-size="12.8" font-weight="bold" font-style="normal" text-anchor="end" >6</text><line x1="402.0" y1="461.4" x2="406.5" y2="461.4" stroke="#000" stroke-width="2.0"/><text x="400.5" y="466.508" font-size="12.8" font-weight="bold" font-style="normal" text-anchor="end" >8</text>
<line x1="402.0" y1="637.4" x2="669.7" y2="637.4" stroke="#000" stroke-width="2.0"/><line x1="406.5" y1="637.4" x2="406.5" y2="641.9" stroke="#000" stroke-width="2.0"/><line x1="444.1" y1="637.4" x2="444.1" y2="641.9" stroke="#000" stroke-width="2.0"/><line x1="481.7" y1="637.4" x2="481.7" y2="641.9" stroke="#000" stroke-width="2.0"/><line x1="519.3" y1="637.4" x2="519.3" y2="641.9" stroke="#000" stroke-width="2.0"/><line x1="556.9" y1="637.4" x2="556.9" y2="641.9" stroke="#000" stroke-width="2.0"/><line x1="594.5" y1="637.4" x2="594.5" y2="641.9" stroke="#000" stroke-width="2.0"/><line x1="632.1" y1="637.4" x2="632.1" y2="641.9" stroke="#000" stroke-width="2.0"/><line x1="669.7" y1="637.4" x2="669.7" y2="641.9" stroke="#000" stroke-width="2.0"/>
<text x="406.5" y="657.4" font-size="12.8" font-weight="bold" font-style="normal" text-anchor="middle" >0</text>
<text x="444.1" y="657.4" font-size="12.8" font-weight="bold" font-style="normal" text-anchor="middle" >1</text>
<text x="481.7" y="657.4" font-size="12.8" font-weight="bold" font-style="normal" text-anchor="middle" >2</text>
<text x="519.3" y="657.4" font-size="12.8" font-weight="bold" font-style="normal" text-anchor="middle" >3</text>
<text x="556.9" y="657.4" font-size="12.8" font-weight="bold" font-style="normal" text-anchor="middle" >4</text>
<text x="594.5" y="657.4" font-size="12.8" font-weight="bold" font-style="normal" text-anchor="middle" >5</text>
<text x="632.1" y="657.4" font-size="12.8" font-weight="bold" font-style="normal" text-anchor="middle" >6</text>
<text x="669.7" y="657.4" font-size="12.8" font-weight="bold" font-style="normal" text-anchor="middle" >7</text>
<text x="538.1" y="675.8" font-size="14.0" font-weight="bold" font-style="normal" text-anchor="middle" >Days</text>
<text x="0" y="0" font-size="16.6" font-weight="bold" text-anchor="middle" transform="translate(386.5,549.2) rotate(-90)">Parasitemia (%)</text>
<line x1="556.9" y1="613.42" x2="556.9" y2="623.1" stroke="#022aff" stroke-width="1.5"/><line x1="553.4" y1="613.42" x2="560.4" y2="613.42" stroke="#022aff" stroke-width="1.6"/><line x1="553.4" y1="623.1" x2="560.4" y2="623.1" stroke="#022aff" stroke-width="1.6"/><line x1="632.1" y1="516.62" x2="632.1" y2="564.14" stroke="#022aff" stroke-width="1.5"/><line x1="628.6" y1="516.62" x2="635.6" y2="516.62" stroke="#022aff" stroke-width="1.6"/><line x1="628.6" y1="564.14" x2="635.6" y2="564.14" stroke="#022aff" stroke-width="1.6"/><polyline fill="none" stroke="#022aff" stroke-width="2.8" stroke-linejoin="round" points="444.1,637.4 481.7,636.3 556.9,618.3 632.1,540.4"/><circle cx="444.1" cy="637.4" r="2.5" fill="#022aff"/><circle cx="481.7" cy="636.3" r="2.5" fill="#022aff"/><circle cx="556.9" cy="618.3" r="2.5" fill="#022aff"/><circle cx="632.1" cy="540.4" r="2.5" fill="#022aff"/>
<line x1="632.1" y1="512.88" x2="632.1" y2="526.52" stroke="#ff3192" stroke-width="1.5"/><line x1="628.6" y1="512.88" x2="635.6" y2="512.88" stroke="#ff3192" stroke-width="1.6"/><line x1="628.6" y1="526.52" x2="635.6" y2="526.52" stroke="#ff3192" stroke-width="1.6"/><line x1="556.9" y1="616.28" x2="556.9" y2="620.68" stroke="#ff3192" stroke-width="1.5"/><line x1="553.4" y1="616.28" x2="560.4" y2="616.28" stroke="#ff3192" stroke-width="1.6"/><line x1="553.4" y1="620.68" x2="560.4" y2="620.68" stroke="#ff3192" stroke-width="1.6"/><polyline fill="none" stroke="#ff3192" stroke-width="2.8" stroke-linejoin="round" points="444.1,637.4 481.7,636.5 556.9,618.5 632.1,519.7"/><circle cx="444.1" cy="637.4" r="2.5" fill="#ff3192"/><circle cx="481.7" cy="636.5" r="2.5" fill="#ff3192"/><circle cx="556.9" cy="618.5" r="2.5" fill="#ff3192"/><circle cx="632.1" cy="519.7" r="2.5" fill="#ff3192"/>
<line x1="556.9" y1="615.18" x2="556.9" y2="627.9399999999999" stroke="#000" stroke-width="1.5"/><line x1="553.4" y1="615.18" x2="560.4" y2="615.18" stroke="#000" stroke-width="1.6"/><line x1="553.4" y1="627.9399999999999" x2="560.4" y2="627.9399999999999" stroke="#000" stroke-width="1.6"/><line x1="594.5" y1="513.3199999999999" x2="594.5" y2="561.72" stroke="#000" stroke-width="1.5"/><line x1="591.0" y1="513.3199999999999" x2="598.0" y2="513.3199999999999" stroke="#000" stroke-width="1.6"/><line x1="591.0" y1="561.72" x2="598.0" y2="561.72" stroke="#000" stroke-width="1.6"/><line x1="632.1" y1="478.55999999999995" x2="632.1" y2="524.3199999999999" stroke="#000" stroke-width="1.5"/><line x1="628.6" y1="478.55999999999995" x2="635.6" y2="478.55999999999995" stroke="#000" stroke-width="1.6"/><line x1="628.6" y1="524.3199999999999" x2="635.6" y2="524.3199999999999" stroke="#000" stroke-width="1.6"/><polyline fill="none" stroke="#000" stroke-width="2.8" stroke-linejoin="round" points="444.1,636.1 481.7,635.2 519.3,635.2 556.9,621.6 594.5,537.5 632.1,501.4"/><circle cx="444.1" cy="636.1" r="2.5" fill="#000"/><circle cx="481.7" cy="635.2" r="2.5" fill="#000"/><circle cx="519.3" cy="635.2" r="2.5" fill="#000"/><circle cx="556.9" cy="621.6" r="2.5" fill="#000"/><circle cx="594.5" cy="537.5" r="2.5" fill="#000"/><circle cx="632.1" cy="501.4" r="2.5" fill="#000"/>
<line x1="433.1" y1="477.3" x2="455.8" y2="477.3" stroke="#000" stroke-width="2.6"/>
<circle cx="444.3" cy="477.3" r="2.4" fill="#000"/>
<text x="464.2" y="482.40000000000003" font-size="14.5">WT</text>
<line x1="433.1" y1="498.2" x2="455.8" y2="498.2" stroke="#022aff" stroke-width="2.6"/>
<circle cx="444.3" cy="498.2" r="2.4" fill="#022aff"/>
<text x="464.2" y="503.3" font-size="14.5">IAXO</text>
<line x1="433.1" y1="518.5" x2="455.8" y2="518.5" stroke="#ff3192" stroke-width="2.6"/>
<circle cx="444.3" cy="518.5" r="2.4" fill="#ff3192"/>
<text x="464.2" y="523.6" font-size="14.5">Vehicle</text>
</svg></body></html>
